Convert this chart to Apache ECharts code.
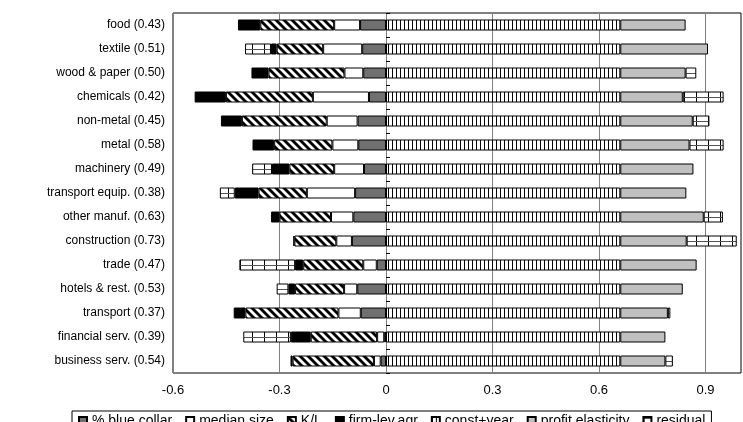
<!DOCTYPE html>
<html>
<head>
<meta charset="utf-8">
<script src="https://cdn.jsdelivr.net/npm/echarts@6/dist/echarts.min.js"></script>
<style>
  html, body { margin: 0; padding: 0; background: #fff; }
  #chart { width: 743px; height: 422px; }
</style>
</head>
<body>
<div id="chart"></div>
<script>
// industries, top to bottom
const categories = ['food (0.43)', 'textile (0.51)', 'wood & paper (0.50)', 'chemicals (0.42)',
  'non-metal (0.45)', 'metal (0.58)', 'machinery (0.49)', 'transport equip. (0.38)',
  'other manuf. (0.63)', 'construction (0.73)', 'trade (0.47)', 'hotels & rest. (0.53)',
  'transport (0.37)', 'financial serv. (0.39)', 'business serv. (0.54)'];

const blueCollar = [-0.073, -0.067, -0.064, -0.048, -0.080, -0.078, -0.062, -0.087, -0.092, -0.096, -0.026, -0.081, -0.071, -0.005, -0.015];
const medianSize = [-0.073, -0.110, -0.053, -0.158, -0.087, -0.073, -0.084, -0.136, -0.063, -0.044, -0.038, -0.037, -0.063, -0.020, -0.019];
const kl = [-0.208, -0.131, -0.214, -0.245, -0.239, -0.164, -0.126, -0.136, -0.145, -0.118, -0.169, -0.138, -0.262, -0.187, -0.229];
const firmLevAgr = [-0.063, -0.016, -0.048, -0.088, -0.059, -0.061, -0.049, -0.067, -0.024, -0.003, -0.023, -0.019, -0.033, -0.056, -0.006];
const constYear = [0.66, 0.66, 0.66, 0.66, 0.66, 0.66, 0.66, 0.66, 0.66, 0.66, 0.66, 0.66, 0.66, 0.66, 0.66];
const profitElasticity = [0.184, 0.247, 0.184, 0.176, 0.204, 0.195, 0.206, 0.186, 0.235, 0.187, 0.215, 0.176, 0.134, 0.127, 0.127];
const residual = [null, -0.073, 0.030, 0.115, 0.047, 0.096, -0.056, -0.042, 0.054, 0.141, -0.157, -0.033, 0.007, -0.134, 0.021];

const xTicks = { min: -0.6, max: 1.0, interval: 0.3 };

// small canvas tiles used as fill patterns
function makePattern(w, h, draw) {
  const c = document.createElement('canvas');
  c.width = w;
  c.height = h;
  const ctx = c.getContext('2d');
  ctx.fillStyle = '#fff';
  ctx.fillRect(0, 0, w, h);
  draw(ctx);
  return { image: c, repeat: 'repeat' };
}

const hatch = makePattern(8, 8, function (ctx) {
  ctx.strokeStyle = '#000';
  ctx.lineWidth = 2.8;
  [-8, 0, 8].forEach(function (o) {
    ctx.beginPath();
    ctx.moveTo(o - 1, -1);
    ctx.lineTo(o + 9, 9);
    ctx.stroke();
  });
});

const stripes = makePattern(4, 4, function (ctx) {
  ctx.fillStyle = '#000';
  ctx.fillRect(0, 0, 1, 4);
});

const grid = makePattern(12, 24, function (ctx) {
  ctx.fillStyle = '#000';
  ctx.fillRect(0, 0, 1, 24);
  ctx.fillStyle = '#555';
  ctx.fillRect(0, 1, 12, 1);
});

const chart = echarts.init(document.getElementById('chart'));

function bar(name, data, color) {
  return {
    name: name,
    type: 'bar',
    stack: 'total',
    data: data,
    barWidth: 11,
    itemStyle: { color: color, borderColor: '#000', borderWidth: 1 }
  };
}

chart.setOption({
  animation: false,
  textStyle: { fontFamily: 'Liberation Sans, Arial, sans-serif', color: '#000' },
  grid: {
    left: 173, right: 2, top: 13, height: 360,
    show: true, borderColor: '#000', borderWidth: 1, backgroundColor: 'transparent'
  },
  legend: {
    top: 411,
    left: 72,
    icon: 'rect',
    itemWidth: 8,
    itemHeight: 8,
    itemGap: 13,
    padding: [3, 6],
    borderColor: '#000',
    borderWidth: 1,
    textStyle: { fontSize: 14, color: '#000' }
  },
  xAxis: {
    type: 'value',
    min: xTicks.min,
    max: xTicks.max,
    interval: xTicks.interval,
    axisLine: { show: false },
    axisTick: { show: false },
    axisLabel: { fontSize: 13, color: '#000', margin: 11, showMaxLabel: false },
    splitLine: { show: true, lineStyle: { color: '#808080', width: 1 } }
  },
  yAxis: [
    {
      type: 'category',
      data: categories,
      inverse: true,
      axisLine: { show: false, onZero: false },
      axisTick: { show: false },
      axisLabel: { fontSize: 12, color: '#000', margin: 8 }
    },
    {
      type: 'category',
      data: categories,
      inverse: true,
      axisLine: { show: true, onZero: true, lineStyle: { color: '#808080' } },
      axisTick: { show: true, length: 4, lineStyle: { color: '#000' } },
      axisLabel: { show: false }
    }
  ],
  series: [
    bar('% blue collar', blueCollar, '#707070'),
    bar('median size', medianSize, '#fff'),
    bar('K/L', kl, hatch),
    bar('firm-lev.agr', firmLevAgr, '#000'),
    bar('const+year', constYear, stripes),
    bar('profit elasticity', profitElasticity, '#c0c0c0'),
    bar('residual', residual, grid)
  ]
});
</script>
</body>
</html>
